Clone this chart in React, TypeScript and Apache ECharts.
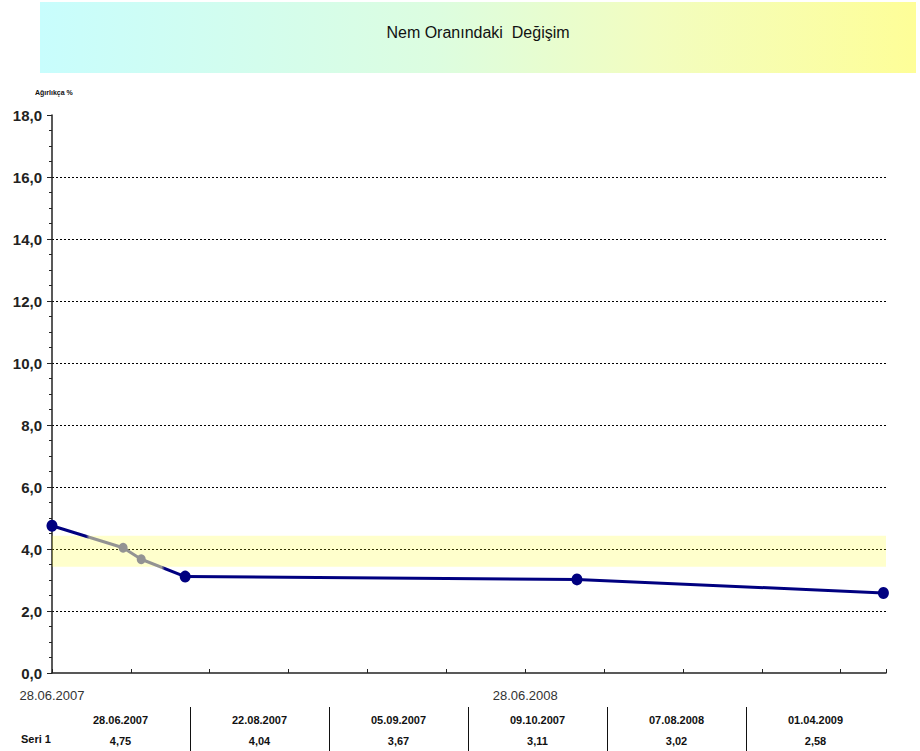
import React, { useEffect, useRef } from "react";
import * as echarts from "echarts";

const titleText = "Nem Oranındaki  Değişim";
const yAxisTitle = "Ağırlıkça %";
const seriesName = "Seri 1";
const measureDates = ["28.06.2007", "22.08.2007", "05.09.2007", "09.10.2007", "07.08.2008", "01.04.2009"];
const measureValues = [4.75, 4.04, 3.67, 3.11, 3.02, 2.58];
// indexes of the measurements drawn grey (excluded points)
const greyIdx = [1, 2];
const bandRange = [3.43, 4.43];
const axisStartDate = "28.06.2007";
const axisEndDays = 645;
const tickDays = 61;

const NAVY = "#000080";
const GREY = "#939393";
const FONT = "'Liberation Sans Narrow', 'Arial Narrow', 'Liberation Sans', Arial, sans-serif";

function parseDate(s: string) {
  const [d, m, y] = s.split(".").map(Number);
  return Date.UTC(y, m - 1, d);
}
const DAY = 86400000;
const start = parseDate(axisStartDate);
const dayOf = (s: string) => Math.round((parseDate(s) - start) / DAY);
const fmtDate = (days: number) => {
  const dt = new Date(start + days * DAY);
  const dd = String(dt.getUTCDate()).padStart(2, "0");
  const mm = String(dt.getUTCMonth() + 1).padStart(2, "0");
  return `${dd}.${mm}.${dt.getUTCFullYear()}`;
};
const fmtNum = (v: number, p: number) => v.toFixed(p).replace(".", ",");

export default function App() {
  const ref = useRef<HTMLDivElement>(null);
  useEffect(() => {
    if (!ref.current) return;
    const chart = echarts.init(ref.current, undefined, { renderer: "svg" });
    const xs = measureDates.map(dayOf);
    const x0 = xs[0];
    const span = xs[xs.length - 1] - x0;
    // each segment is coloured half by each endpoint's colour
    const colorOf = (i: number) => (greyIdx.includes(i) ? GREY : NAVY);
    const stops: { offset: number; color: string }[] = [{ offset: 0, color: colorOf(0) }];
    for (let i = 0; i < xs.length - 1; i++) {
      if (colorOf(i) !== colorOf(i + 1)) {
        const mid = ((xs[i] + xs[i + 1]) / 2 - x0) / span;
        stops.push({ offset: mid - 0.002, color: colorOf(i) });
        stops.push({ offset: mid + 0.002, color: colorOf(i + 1) });
      }
    }
    stops.push({ offset: 1, color: colorOf(xs.length - 1) });

    const data = xs.map((x, i) => {
      const grey = greyIdx.includes(i);
      return {
        value: [x, measureValues[i]],
        symbolSize: grey ? [9, 10] : [11, 12],
        itemStyle: { color: grey ? GREY : NAVY },
      };
    });

    const option: any = {
      animation: false,
      backgroundColor: "#ffffff",
      grid: [
        { left: 52, right: 34, top: 115, bottom: 78 },
        { left: 51, right: 35, top: 707, height: 44 },
      ],
      graphic: [
        {
          type: "rect",
          left: 40,
          top: 2,
          shape: { width: 876, height: 71 },
          style: {
            fill: new echarts.graphic.LinearGradient(0, 0, 1, 0, [
              { offset: 0, color: "#c8fdfd" },
              { offset: 0.45, color: "#dcfde0" },
              { offset: 0.7, color: "#f2fdc0" },
              { offset: 1, color: "#fefe98" },
            ]),
          },
          z: 0,
        },
        {
          type: "text",
          x: 478,
          y: 32,
          style: {
            text: titleText,
            fill: "#111",
            font: `16px ${FONT}`,
            align: "center",
            verticalAlign: "middle",
          },
          z: 1,
        },
        {
          type: "text",
          x: 35,
          y: 92,
          style: {
            text: yAxisTitle,
            fill: "#111",
            font: `bold 7px ${FONT}`,
            align: "left",
            verticalAlign: "middle",
          },
        },
        {
          type: "text",
          x: 21,
          y: 739,
          style: {
            text: seriesName,
            fill: "#111",
            font: `bold 11px ${FONT}`,
            align: "left",
            verticalAlign: "middle",
          },
        },
      ],
      xAxis: [
        {
          type: "value",
          gridIndex: 0,
          min: 0,
          max: axisEndDays,
          interval: tickDays,
          axisLine: { show: true, lineStyle: { color: "#222", width: 1.5 } },
          axisTick: { show: true, inside: true, length: 4, lineStyle: { color: "#222" } },
          splitLine: { show: false },
          axisLabel: {
            margin: 16,
            color: "#333",
            fontFamily: FONT,
            fontSize: 13,
            formatter: (v: number) => {
              if (v >= axisEndDays) return "";
              const s = fmtDate(v);
              return s.startsWith("28.06.") ? s : "";
            },
          },
        },
        {
          type: "category",
          gridIndex: 1,
          position: "top",
          data: measureDates,
          boundaryGap: true,
          axisLine: { show: false },
          axisTick: { show: false },
          splitLine: { show: true, showMinLine: false, showMaxLine: false, lineStyle: { color: "#111", width: 1 } },
          axisLabel: {
            inside: true,
            margin: 2,
            interval: 0,
            formatter: (d: string, i: number) => `{d|${d}}\n{v|${fmtNum(measureValues[i], 2)}}`,
            rich: {
              d: { fontFamily: FONT, fontSize: 11, fontWeight: "bold", color: "#111", lineHeight: 21 },
              v: { fontFamily: FONT, fontSize: 11, fontWeight: "bold", color: "#111", lineHeight: 21 },
            },
          },
        },
      ],
      yAxis: [
        {
          type: "value",
          gridIndex: 0,
          min: 0,
          max: 18,
          interval: 2,
          axisLine: { show: true, lineStyle: { color: "#222", width: 1.5 } },
          axisTick: { show: true, length: 5, lineStyle: { color: "#222" } },
          minorTick: { show: true, splitNumber: 4, length: 3, lineStyle: { color: "#222" } },
          splitLine: {
            show: true,
            showMinLine: false,
            showMaxLine: false,
            lineStyle: { color: "#000", width: 1, type: [2, 2] },
          },
          axisLabel: {
            margin: 10,
            color: "#222",
            fontFamily: FONT,
            fontSize: 15,
            fontWeight: "bold",
            formatter: (v: number) => fmtNum(v, 1),
          },
        },
        {
          type: "value",
          gridIndex: 1,
          show: false,
        },
      ],
      series: [
        {
          name: seriesName,
          type: "line",
          xAxisIndex: 0,
          yAxisIndex: 0,
          data,
          symbol: "circle",
          showSymbol: true,
          lineStyle: { width: 3, color: new echarts.graphic.LinearGradient(0, 0, 1, 0, stops) },
          z: 3,
          markArea: {
            silent: true,
            itemStyle: { color: "rgba(255,255,0,0.2)" },
            data: [[{ yAxis: bandRange[0] }, { yAxis: bandRange[1] }]],
          },
        },
      ],
    };
    chart.setOption(option);
    return () => chart.dispose();
  }, []);
  return <div ref={ref} style={{ width: 920, height: 751, position: "absolute", left: 0, top: 0 }} />;
}
